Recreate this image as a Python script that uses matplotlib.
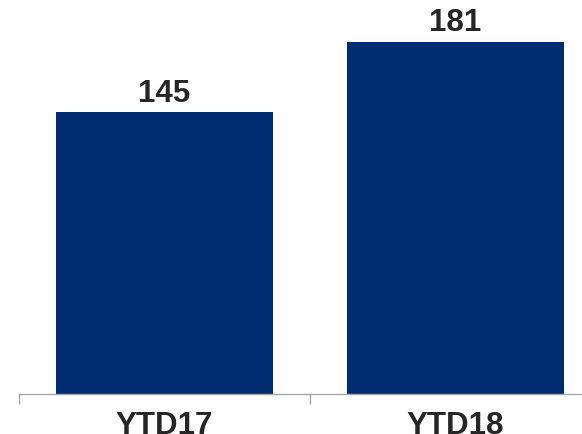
import matplotlib
matplotlib.use("Agg")
import matplotlib.pyplot as plt

categories = ["YTD17", "YTD18"]
values = [145, 181]

plt.rcParams['font.family'] = ['Liberation Sans', 'DejaVu Sans']

fig = plt.figure(figsize=(5.82, 4.34), dpi=100)
W, H = 582, 434
left, right = 19 / W, 601 / W
bottom, top = 1 - 394 / H, 1.0
ax = fig.add_axes([left, bottom, right - left, top - bottom])

x = range(len(categories))
bars = ax.bar(x, values, width=0.747, color="#002D72", zorder=2)
ax.set_xlim(-0.5, 1.5)
ax.set_ylim(0, 394 / 1.945)

for xi, v in zip(x, values):
    ax.annotate(str(v), (xi, v), xytext=(0, 2.5), textcoords="offset points",
                ha="center", va="bottom", fontsize=22.5, fontweight="bold", color="#262626")

ax.set_xticks(list(x))
ax.set_xticklabels(categories, fontsize=22.5, fontweight="bold", color="#262626")
ax.tick_params(axis="x", which="major", length=0, pad=12.5)
ax.set_xticks([-0.5, 0.5, 1.5], minor=True)
ax.tick_params(axis="x", which="minor", length=7.2, width=1, color="#A6A6A6", direction="out")
ax.set_yticks([])
for s in ["left", "right", "top"]:
    ax.spines[s].set_visible(False)
ax.spines["bottom"].set_color("#A6A6A6")
ax.spines["bottom"].set_linewidth(1)

fig.savefig("out.png", dpi=100)
